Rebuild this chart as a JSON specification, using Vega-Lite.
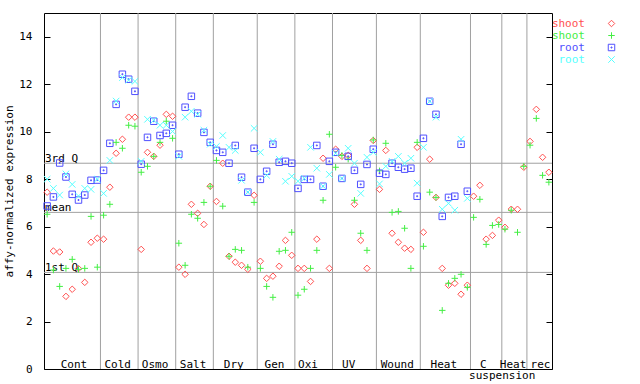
{
  "$schema": "https://vega.github.io/schema/vega-lite/v6.json",
  "width": 508,
  "height": 356,
  "autosize": "none",
  "padding": {"left": 44, "top": 13, "right": 88, "bottom": 15},
  "background": "white",
  "config": {
    "view": {"stroke": "black", "strokeWidth": 1},
    "font": "DejaVu Sans Mono",
    "text": {"font": "DejaVu Sans Mono", "fontSize": 11, "color": "black"}
  },
  "datasets": {
    "pts": [
      {"i":0,"shoot1":7.45,"shoot2":6.52,"root1":6.87,"root2":8.0},
      {"i":1,"shoot1":4.97,"shoot2":4.17,"root1":7.25,"root2":7.61},
      {"i":2,"shoot1":4.93,"shoot2":3.48,"root1":8.68,"root2":7.33},
      {"i":3,"shoot1":3.06,"shoot2":4.24,"root1":8.09,"root2":8.22},
      {"i":4,"shoot1":3.36,"shoot2":4.62,"root1":7.36,"root2":7.78},
      {"i":5,"shoot1":4.23,"shoot2":4.2,"root1":7.12,"root2":7.29},
      {"i":6,"shoot1":3.65,"shoot2":4.24,"root1":7.33,"root2":7.61},
      {"i":7,"shoot1":5.34,"shoot2":6.43,"root1":7.95,"root2":7.57},
      {"i":8,"shoot1":5.51,"shoot2":4.29,"root1":7.96,"root2":8.0},
      {"i":9,"shoot1":5.47,"shoot2":6.48,"root1":8.37,"root2":7.4},
      {"i":10,"shoot1":7.66,"shoot2":6.94,"root1":9.51,"root2":8.79},
      {"i":11,"shoot1":9.09,"shoot2":9.55,"root1":11.15,"root2":11.29},
      {"i":12,"shoot1":9.68,"shoot2":9.3,"root1":12.42,"root2":12.28},
      {"i":13,"shoot1":10.61,"shoot2":10.27,"root1":12.21,"root2":12.17},
      {"i":14,"shoot1":10.61,"shoot2":10.23,"root1":11.7,"root2":12.12},
      {"i":15,"shoot1":5.04,"shoot2":8.29,"root1":8.63,"root2":8.75},
      {"i":16,"shoot1":9.13,"shoot2":8.54,"root1":9.76,"root2":10.52},
      {"i":17,"shoot1":8.96,"shoot2":8.96,"root1":10.44,"root2":10.48},
      {"i":18,"shoot1":9.43,"shoot2":9.55,"root1":9.84,"root2":10.27},
      {"i":19,"shoot1":10.73,"shoot2":10.44,"root1":9.93,"root2":10.27},
      {"i":20,"shoot1":10.65,"shoot2":9.72,"root1":10.27,"root2":10.01},
      {"i":21,"shoot1":4.29,"shoot2":5.3,"root1":9.05,"root2":8.96},
      {"i":22,"shoot1":3.99,"shoot2":4.37,"root1":11.03,"root2":10.61},
      {"i":23,"shoot1":6.94,"shoot2":6.52,"root1":11.49,"root2":10.86},
      {"i":24,"shoot1":6.56,"shoot2":6.35,"root1":10.78,"root2":10.73},
      {"i":25,"shoot1":6.09,"shoot2":7.02,"root1":9.97,"root2":10.06},
      {"i":26,"shoot1":7.7,"shoot2":7.7,"root1":9.55,"root2":9.47},
      {"i":27,"shoot1":7.06,"shoot2":8.79,"root1":9.21,"root2":9.38},
      {"i":28,"shoot1":8.67,"shoot2":6.86,"root1":9.13,"root2":9.84},
      {"i":29,"shoot1":4.75,"shoot2":4.75,"root1":8.67,"root2":9.34},
      {"i":30,"shoot1":4.5,"shoot2":5.04,"root1":9.42,"root2":9.21},
      {"i":31,"shoot1":4.37,"shoot2":5.0,"root1":8.08,"root2":7.95},
      {"i":32,"shoot1":4.2,"shoot2":4.29,"root1":7.45,"root2":7.45},
      {"i":33,"shoot1":7.32,"shoot2":7.02,"root1":9.3,"root2":10.14},
      {"i":34,"shoot1":4.54,"shoot2":4.24,"root1":7.99,"root2":9.13},
      {"i":35,"shoot1":3.82,"shoot2":3.48,"root1":8.33,"root2":8.16},
      {"i":36,"shoot1":3.91,"shoot2":3.02,"root1":9.47,"root2":9.59},
      {"i":37,"shoot1":4.33,"shoot2":4.96,"root1":8.71,"root2":8.84},
      {"i":38,"shoot1":5.42,"shoot2":5.0,"root1":8.75,"root2":7.91},
      {"i":39,"shoot1":4.79,"shoot2":5.76,"root1":8.67,"root2":8.12},
      {"i":40,"shoot1":4.24,"shoot2":3.11,"root1":7.61,"root2":7.91},
      {"i":41,"shoot1":4.24,"shoot2":3.36,"root1":7.99,"root2":8.03},
      {"i":42,"shoot1":3.69,"shoot2":4.24,"root1":7.99,"root2":9.34},
      {"i":43,"shoot1":5.47,"shoot2":5.0,"root1":9.42,"root2":8.46},
      {"i":44,"shoot1":8.88,"shoot2":7.11,"root1":7.7,"root2":7.7},
      {"i":45,"shoot1":4.24,"shoot2":9.89,"root1":8.75,"root2":8.2},
      {"i":46,"shoot1":9.26,"shoot2":8.5,"root1":9.13,"root2":9.09},
      {"i":47,"shoot1":8.96,"shoot2":9.0,"root1":8.03,"root2":8.03},
      {"i":48,"shoot1":9.0,"shoot2":8.84,"root1":8.96,"root2":9.3},
      {"i":49,"shoot1":6.94,"shoot2":7.11,"root1":8.37,"root2":8.67},
      {"i":50,"shoot1":5.42,"shoot2":5.72,"root1":7.78,"root2":7.4},
      {"i":51,"shoot1":4.24,"shoot2":5.0,"root1":8.62,"root2":8.92},
      {"i":52,"shoot1":9.63,"shoot2":9.65,"root1":9.26,"root2":9.13},
      {"i":53,"shoot1":7.57,"shoot2":8.35,"root1":8.25,"root2":7.8},
      {"i":54,"shoot1":9.21,"shoot2":9.51,"root1":8.2,"root2":8.54},
      {"i":55,"shoot1":5.72,"shoot2":6.6,"root1":8.67,"root2":8.75},
      {"i":56,"shoot1":5.34,"shoot2":6.64,"root1":8.5,"root2":8.96},
      {"i":57,"shoot1":5.09,"shoot2":5.93,"root1":8.42,"root2":8.67},
      {"i":58,"shoot1":5.04,"shoot2":4.24,"root1":8.46,"root2":8.88},
      {"i":59,"shoot1":9.34,"shoot2":9.55,"root1":7.28,"root2":7.83},
      {"i":60,"shoot1":5.76,"shoot2":5.17,"root1":9.72,"root2":9.34},
      {"i":61,"shoot1":8.84,"shoot2":7.45,"root1":11.28,"root2":11.28},
      {"i":62,"shoot1":7.23,"shoot2":7.23,"root1":10.73,"root2":10.61},
      {"i":63,"shoot1":4.24,"shoot2":2.47,"root1":6.43,"root2":6.73},
      {"i":64,"shoot1":3.53,"shoot2":3.61,"root1":7.23,"root2":6.98},
      {"i":65,"shoot1":3.61,"shoot2":3.82,"root1":7.28,"root2":6.69},
      {"i":66,"shoot1":3.15,"shoot2":3.99,"root1":9.47,"root2":9.68},
      {"i":67,"shoot1":3.53,"shoot2":3.44,"root1":7.49,"root2":7.19},
      {"i":68,"shoot1":7.28,"shoot2":6.39},
      {"i":69,"shoot1":7.74,"shoot2":7.15},
      {"i":70,"shoot1":5.47,"shoot2":5.25},
      {"i":71,"shoot1":5.63,"shoot2":6.05},
      {"i":72,"shoot1":6.27,"shoot2":6.09},
      {"i":73,"shoot1":5.97,"shoot2":5.89},
      {"i":74,"shoot1":6.73,"shoot2":6.69},
      {"i":75,"shoot1":6.73,"shoot2":5.76},
      {"i":76,"shoot1":8.5,"shoot2":8.54},
      {"i":77,"shoot1":9.59,"shoot2":9.43},
      {"i":78,"shoot1":10.94,"shoot2":10.56},
      {"i":79,"shoot1":8.92,"shoot2":8.16},
      {"i":80,"shoot1":8.29,"shoot2":7.87}
    ],
    "seps": [{"b":8.5},{"b":14.5},{"b":20.5},{"b":26.5},{"b":33.5},{"b":39.5},{"b":45.5},{"b":52.5},{"b":59.5},{"b":67.5},{"b":72.5},{"b":76.5}],
    "quart": [{"q":8.67,"lab":"3rd Q"},{"q":6.6,"lab":"mean"},{"q":4.07,"lab":"1st Q"}],
    "groups": [
      {"g":"Cont","lx":4.28},{"g":"Cold","lx":11.25},{"g":"Osmo","lx":17.2},{"g":"Salt","lx":23.26},
      {"g":"Dry","lx":29.76},{"g":"Gen","lx":36.25},{"g":"Oxi","lx":41.6},{"g":"UV","lx":48.08},
      {"g":"Wound","lx":55.83},{"g":"Heat","lx":63.25},{"g":"C","lx":69.55},{"g":"Heat","lx":74.3},{"g":"rec","lx":78.67}
    ],
    "sub": [{"g":"suspension","lx":72.56}]
  },
  "resolve": {"axis": {"y": "independent"}},
  "layer": [
    {
      "data": {"name": "seps"},
      "mark": {"type": "rule", "color": "#a0a0a0", "strokeWidth": 1},
      "encoding": {
        "x": {"field": "b", "type": "quantitative", "scale": {"domain": [-0.5, 80.5], "nice": false, "zero": false}, "axis": null}
      }
    },
    {
      "data": {"name": "quart"},
      "mark": {"type": "rule", "color": "#a0a0a0", "strokeWidth": 1},
      "encoding": {
        "y": {"field": "q", "type": "quantitative", "scale": {"domain": [0, 15], "nice": false, "zero": false},
          "axis": {"orient": "right", "values": [0,2,4,6,8,10,12,14], "labels": false, "title": null, "tickSize": -6, "tickColor": "black", "domain": false, "grid": false}}
      }
    },
    {
      "data": {"name": "quart"},
      "mark": {"type": "text", "align": "left", "baseline": "alphabetic", "dx": 1, "dy": -1},
      "encoding": {
        "x": {"datum": -0.5, "type": "quantitative", "scale": {"domain": [-0.5, 80.5], "nice": false, "zero": false}, "axis": null},
        "y": {"field": "q", "type": "quantitative", "scale": {"domain": [0, 15], "nice": false, "zero": false}, "axis": null},
        "text": {"field": "lab"}
      }
    },
    {
      "data": {"name": "groups"},
      "mark": {"type": "text", "align": "center", "baseline": "alphabetic", "dy": -1},
      "encoding": {
        "x": {"field": "lx", "type": "quantitative", "scale": {"domain": [-0.5, 80.5], "nice": false, "zero": false}, "axis": null},
        "y": {"datum": 0, "type": "quantitative", "scale": {"domain": [0, 15], "nice": false, "zero": false}, "axis": null},
        "text": {"field": "g"}
      }
    },
    {
      "data": {"name": "sub"},
      "mark": {"type": "text", "align": "center", "baseline": "alphabetic", "dy": 10, "clip": false},
      "encoding": {
        "x": {"field": "lx", "type": "quantitative", "scale": {"domain": [-0.5, 80.5], "nice": false, "zero": false}, "axis": null},
        "y": {"datum": 0, "type": "quantitative", "scale": {"domain": [0, 15], "nice": false, "zero": false}, "axis": null},
        "text": {"field": "g"}
      }
    },
    {
      "data": {"name": "pts"},
      "transform": [
        {"fold": ["shoot1", "shoot2", "root1", "root2"], "as": ["series", "value"]},
        {"filter": "isValid(datum.value)"}
      ],
      "mark": {"type": "point", "filled": false, "strokeWidth": 1, "size": 42, "opacity": 1},
      "encoding": {
        "x": {"field": "i", "type": "quantitative", "scale": {"domain": [-0.5, 80.5], "nice": false, "zero": false}, "axis": null},
        "y": {"field": "value", "type": "quantitative", "scale": {"domain": [0, 15], "nice": false, "zero": false},
          "axis": {"orient": "left", "values": [0,2,4,6,8,10,12,14], "title": "affy-normalized expression",
            "titleFont": "DejaVu Sans Mono", "titleFontSize": 11, "titleFontWeight": "normal", "titleColor": "black", "titlePadding": 4,
            "labelFont": "DejaVu Sans Mono", "labelFontSize": 11, "labelColor": "black", "labelPadding": 18,
            "tickSize": -6, "tickColor": "black", "domain": false, "grid": false}},
        "color": {"field": "series", "type": "nominal",
          "scale": {"domain": ["shoot1", "shoot2", "root1", "root2"], "range": ["#ff5050", "#44ee44", "#5050ff", "#55ffff"]},
          "legend": {"orient": "none", "legendX": 562, "legendY": 5, "title": null, "padding": 0, "rowPadding": 0,
            "labelFont": "DejaVu Sans Mono", "labelFontSize": 11, "labelAlign": "right", "labelOffset": -32,
            "labelColor": {"expr": "scale('color', datum.value)"},
            "labelExpr": "slice(datum.label, 0, -1)", "symbolSize": 42, "symbolStrokeWidth": 1}},
        "shape": {"field": "series", "type": "nominal",
          "scale": {"domain": ["shoot1", "shoot2", "root1", "root2"], "range": ["diamond", "M-1,0H1M0,-1V1", "M-1,-1H1V1H-1ZM-0.15,-0.15H0.15V0.15H-0.15Z", "M-1,-1L1,1M-1,1L1,-1"]},
          "legend": {"orient": "none", "legendX": 562, "legendY": 5, "title": null, "padding": 0, "rowPadding": 0,
            "labelFont": "DejaVu Sans Mono", "labelFontSize": 11, "labelAlign": "right", "labelOffset": -32,
            "labelColor": {"expr": "scale('color', datum.value)"},
            "labelExpr": "slice(datum.label, 0, -1)", "symbolSize": 42, "symbolStrokeWidth": 1}}
      }
    }
  ]
}
